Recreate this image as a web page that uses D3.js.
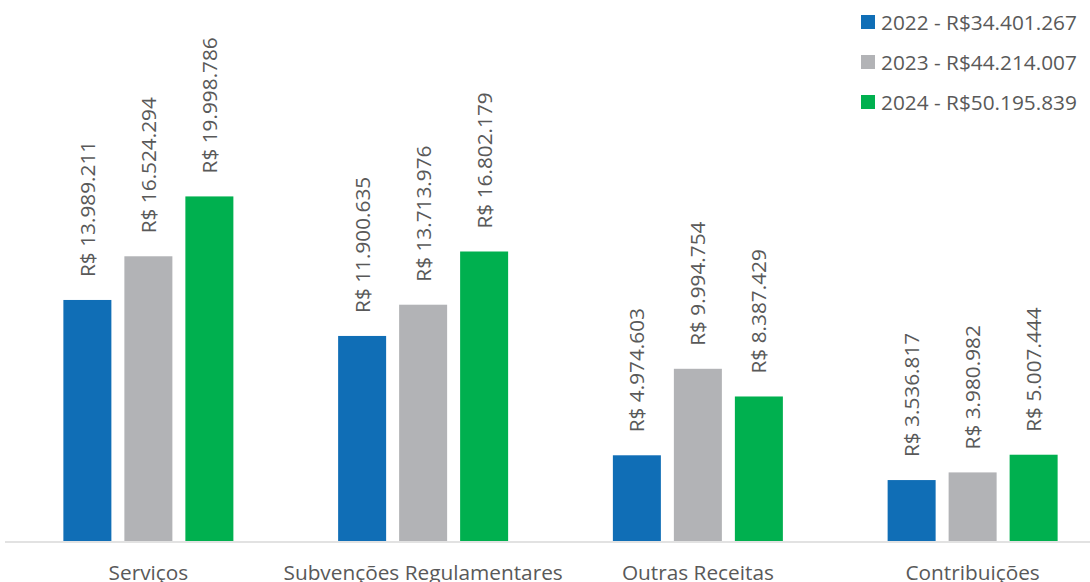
<!DOCTYPE html>
<html><head><meta charset="utf-8">
<script src="https://cdn.jsdelivr.net/npm/d3@7"></script>
<style>body{margin:0;background:#fff;} svg{display:block;} text{font-family:"Open Sans",sans-serif;}</style>
</head><body><svg id="c" width="1090" height="582"></svg>
<script>
const categories = ["Serviços", "Subvenções Regulamentares", "Outras Receitas", "Contribuições"];
const seriesNames = ["2022 - R$34.401.267", "2023 - R$44.214.007", "2024 - R$50.195.839"];
const values2022 = [13989211, 11900635, 4974603, 3536817];
const values2023 = [16524294, 13713976, 9994754, 3980982];
const values2024 = [19998786, 16802179, 8387429, 5007444];
const colors = ["#106EB6", "#B2B3B6", "#00B04F"];

const series = [values2022, values2023, values2024];
const svg = d3.select("#c");
const baseY = 541;
const fs = 20.8;
const x0 = d3.scaleBand().domain(categories).range([11, 1110]);
const x1 = d3.scaleBand().domain([0,1,2]).range([0, 170]).paddingInner(0.213);
const y = d3.scaleLinear().domain([0, 20000000]).range([baseY, 196.4]);
const fmt = v => "R$ " + d3.format(",")(v).replace(/,/g, ".");

// axis line
svg.append("line").attr("x1", 5).attr("x2", 1090).attr("y1", baseY + 1).attr("y2", baseY + 1)
  .attr("stroke", "#d9d9d9").attr("stroke-width", 1.5);

categories.forEach((c, i) => {
  const gx = x0(c) + x0.bandwidth() / 2 - 85;
  series.forEach((vals, s) => {
    const bx = gx + x1(s);
    const v = vals[i];
    svg.append("rect").attr("x", bx).attr("y", y(v)).attr("width", x1.bandwidth())
      .attr("height", baseY - y(v)).attr("fill", colors[s]);
    const cx = bx + x1.bandwidth() / 2;
    const ty = y(v) - 23;
    svg.append("text").attr("transform", `translate(${cx + 7.5},${ty}) rotate(-90)`)
      .attr("font-size", fs).attr("fill", "#595959").text(fmt(v));
  });
  svg.append("text").attr("x", x0(c) + x0.bandwidth() / 2).attr("y", 580)
    .attr("text-anchor", "middle").attr("font-size", fs).attr("fill", "#595959").text(c);
});

// legend
seriesNames.forEach((n, s) => {
  const cy = 22 + s * 40;
  svg.append("rect").attr("x", 861).attr("y", cy - 7).attr("width", 14).attr("height", 14).attr("fill", colors[s]);
  svg.append("text").attr("x", 881).attr("y", cy + 7.5).attr("font-size", fs).attr("fill", "#595959").text(n);
});
</script></body></html>
